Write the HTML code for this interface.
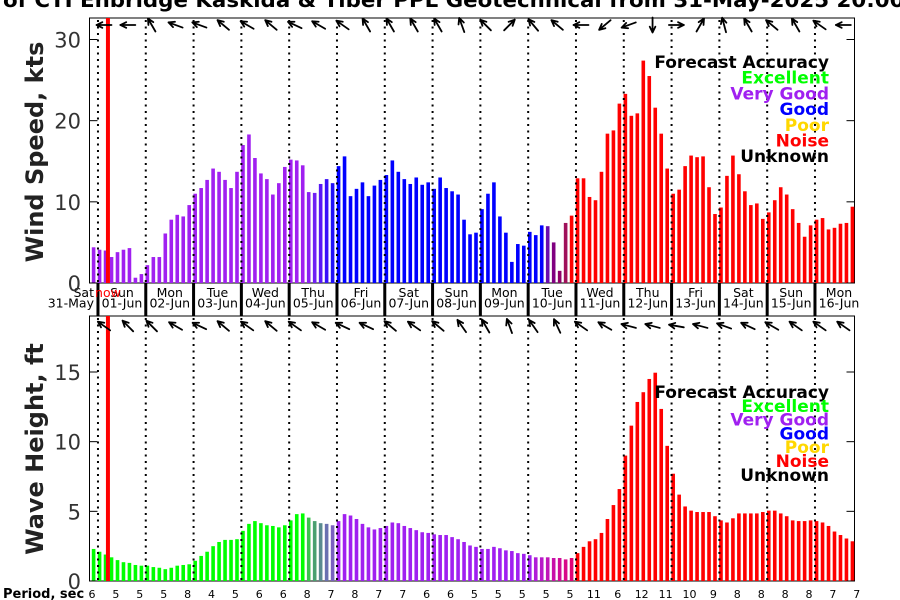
<!DOCTYPE html>
<html><head><meta charset="utf-8"><style>
html,body{margin:0;padding:0;background:#fff;}
svg{display:block;font-family:"DejaVu Sans","Liberation Sans",sans-serif;}
</style></head><body>
<svg id="chart" width="900" height="600" viewBox="0 0 900 600" xmlns="http://www.w3.org/2000/svg">
<text x="3" y="7" font-size="20" font-weight="bold" textLength="910" lengthAdjust="spacingAndGlyphs">of CTI Enbridge  Kaskida &amp; Tiber PPL Geotechnical from 31-May-2025 20:00:</text>
<g id="g"></g>
</svg>
<script>
const windSpeed=[4.4,4.1,4.0,3.2,3.8,4.1,4.3,0.65,1.1,2.2,3.2,3.2,6.1,7.8,8.4,8.2,9.6,11.0,11.7,12.7,14.1,13.7,12.7,11.7,13.7,17.0,18.3,15.4,13.5,12.8,10.9,12.3,14.3,15.2,15.1,14.5,11.2,11.1,12.2,12.8,12.3,14.4,15.6,10.7,11.6,12.4,10.7,12.0,12.7,13.3,15.1,13.7,12.8,12.2,13.0,12.1,12.4,11.6,13.0,11.7,
11.3,10.9,7.8,6.0,6.2,9.1,11.0,12.4,8.2,6.2,2.6,4.8,4.6,6.3,5.9,7.1,7.0,5.0,1.5,7.4,8.3,12.9,12.9,10.6,10.2,13.7,18.4,18.8,22.1,23.3,20.6,20.9,27.4,25.5,21.6,18.4,14.1,11.0,11.5,14.4,15.7,15.5,15.6,11.8,8.5,9.3,13.2,15.7,13.4,11.3,9.6,9.8,7.9,8.7,10.2,11.8,10.9,9.1,7.4,5.7,7.1,7.8,8.0,6.6,6.8,7.3,7.4,9.4];
const waveHeight=[2.3,2.1,1.9,1.7,1.5,1.35,1.3,1.15,1.1,1.1,1.0,0.95,0.85,0.95,1.1,1.15,1.2,1.45,1.8,2.1,2.5,2.8,2.95,2.95,3.0,3.6,4.1,4.3,4.15,4.0,3.95,3.85,4.0,4.35,4.8,4.85,4.55,4.3,4.15,4.1,4.0,4.3,4.8,4.7,4.45,4.1,3.85,3.7,3.8,3.95,4.2,4.15,3.95,3.8,3.65,3.5,3.45,3.35,3.3,3.3,
3.15,3.0,2.8,2.55,2.45,2.3,2.3,2.45,2.35,2.2,2.15,2.0,1.95,1.85,1.7,1.7,1.7,1.65,1.65,1.55,1.65,2.0,2.45,2.85,3.0,3.45,4.45,5.45,6.6,9.0,11.15,12.85,13.55,14.5,14.95,12.35,9.7,7.7,6.2,5.35,5.05,4.95,4.95,4.95,4.65,4.35,4.2,4.5,4.85,4.85,4.85,4.85,4.95,5.05,5.05,4.85,4.65,4.35,4.3,4.3,4.35,4.3,4.2,3.95,3.55,3.3,3.05,2.85];
const windColorRuns=[["#a020f0",36],["#8a20f2",1],["#7020f4",1],["#5818f6",1],["#3810f8",1],["#2010fa",1],["#0000ff",35],["#6a0dad",1],["#800080",1],["#900068",1],["#a0105a",1],["#ff0000",48]];
const waveColorRuns=[["#00ff00",36],["#3cc050",1],["#4aa070",1],["#5a8a90",1],["#6a70b0",1],["#7a60c0",1],["#a020f0",33],["#b01cd8",1],["#b818c8",1],["#c014b8",1],["#c810a8",1],["#d00c98",1],["#d80888",1],["#e00478",1],["#ff0000",47]];
const windDir=[180,180,120,160,160,140,150,140,155,150,145,120,120,120,120,110,135,45,130,140,180,220,200,270,0,60,105,120,140,120,145,180];
const waveDir=[145,135,135,150,155,140,145,140,145,150,155,155,140,145,140,125,120,110,125,115,145,150,165,165,170,165,160,155,150,145,145,145];
const periods=[6,5,5,5,8,4,5,6,6,8,7,8,7,7,6,6,5,5,5,5,5,11,6,12,11,10,9,8,8,8,8,7,7];
const dayNames=["Sun","Mon","Tue","Wed","Thu","Fri","Sat","Sun","Mon","Tue","Wed","Thu","Fri","Sat","Sun","Mon"];
const dayDates=["01-Jun","02-Jun","03-Jun","04-Jun","05-Jun","06-Jun","07-Jun","08-Jun","09-Jun","10-Jun","11-Jun","12-Jun","13-Jun","14-Jun","15-Jun","16-Jun"];
const windTicks=[0,10,20,30];
const waveTicks=[0,5,10,15];
const legendLabels=["Forecast Accuracy","Excellent","Very Good","Good","Poor","Noise","Unknown"];
const legendColors=["#000","#00ff00","#a020f0","#0000ff","#ffd700","#ff0000","#000"];
const nowIndex=2.4;

const NS="http://www.w3.org/2000/svg";
const G=document.getElementById('g');
function mk(tag,attrs,parent){const e=document.createElementNS(NS,tag);for(const k in attrs)e.setAttribute(k,attrs[k]);(parent||G).appendChild(e);return e;}
function expand(runs){const o=[];runs.forEach(r=>{for(let i=0;i<r[1];i++)o.push(r[0]);});return o;}
const windColors=expand(windColorRuns), waveColors=expand(waveColorRuns);
const X0=93.6, DX=5.975;
function xs(i){return X0+i*DX;}
const L=89.5,R=854.5;
function yW(v){return 283-v*(243.5/30);}
function yH(v){return 581-v*(209/15);}

function frame(top,bot,name){
  const r=mk('rect',{x:L,y:top,width:R-L,height:bot-top,fill:'#fff',stroke:'#000','stroke-width':1});
  
  
}
frame(18,283,'wind-plot-frame');
frame(316,581,'wave-plot-frame');

function bars(vals,cols,yf,base,name){
  const g=mk('g',{});
  
  
  vals.forEach((v,i)=>{
    const y=yf(v);
    const b=mk('rect',{x:xs(i)-1.8,y:y,width:3.6,height:base-y,fill:cols[i]},g);
    
    
  });
}
bars(windSpeed,windColors,yW,283,'wind-speed-bars');
bars(waveHeight,waveColors,yH,581,'wave-height-bars');

for(let k=0;k<16;k++){
  const x=xs(1+8*k)-1.6;
  [[18,283],[316,581]].forEach(p=>{
    const l=mk('line',{x1:x,y1:p[0]+2,x2:x,y2:p[1],stroke:'#000','stroke-width':2,'stroke-dasharray':'2,4.5'});
    
    
  });
  const s=mk('rect',{x:x-1.5,y:283,width:3,height:33,fill:'#000'});
  
  
  const cx=x+24;
  const t1=mk('text',{x:cx,y:297,'font-size':12.5,'text-anchor':'middle',fill:'#000'});
  t1.textContent=dayNames[k];
  
  
  const t2=mk('text',{x:cx,y:307.5,'font-size':12.5,'text-anchor':'middle',fill:'#000'});
  t2.textContent=dayDates[k];
  
  
}
{const t1=mk('text',{x:94,y:297,'font-size':12.5,'text-anchor':'end'});t1.textContent='Sat';


const t2=mk('text',{x:94,y:307.5,'font-size':12.5,'text-anchor':'end'});t2.textContent='31-May';

}
mk('line',{x1:L,y1:316,x2:R,y2:316,stroke:'#000','stroke-width':1});

{const nx=xs(nowIndex);
[[18,283],[316,581]].forEach(p=>{const r=mk('rect',{x:nx-2,y:p[0],width:4,height:p[1]-p[0],fill:'#ff0000'});

});
const t=mk('text',{x:nx,y:297,'font-size':12.5,'text-anchor':'middle',fill:'#ff0000'});t.textContent='now';

}

function ticks(arr,yf,name){
  arr.forEach(v=>{const y=yf(v);
    mk('line',{x1:L,y1:y,x2:L+8,y2:y,stroke:'#000','stroke-width':1});
    mk('line',{x1:R-8,y1:y,x2:R,y2:y,stroke:'#000','stroke-width':1});
    const t=mk('text',{x:81,y:y+8,'font-size':21,'text-anchor':'end',fill:'#333'});t.textContent=v;
    
    
  });
}
ticks(windTicks,yW,'wind-y-tick-label');
ticks(waveTicks,yH,'wave-y-tick-label');

{const t=mk('text',{x:0,y:0,'font-size':24,'font-weight':'bold','text-anchor':'middle',transform:'translate(43,152) rotate(-90)',fill:'#222'});t.textContent='Wind Speed, kts';


const t2=mk('text',{x:0,y:0,'font-size':24,'font-weight':'bold','text-anchor':'middle',transform:'translate(43,449) rotate(-90)',fill:'#222'});t2.textContent='Wave Height, ft';

}

function arrows(dirs,y,name){
  const g=mk('g',{});
  
  
  dirs.forEach((d,j)=>{
    const cx=104+j*23.85, a=d*Math.PI/180, len=7.5;
    const dx=Math.cos(a)*len, dy=-Math.sin(a)*len;
    const hx=cx+dx, hy=y+dy;
    const h=6.5, s=0.45;
    const p=mk('path',{d:`M${cx-dx},${y-dy}L${hx},${hy}`+
      `M${hx},${hy}L${hx-Math.cos(a-s)*h},${hy+Math.sin(a-s)*h}`+
      `M${hx},${hy}L${hx-Math.cos(a+s)*h},${hy+Math.sin(a+s)*h}`,stroke:'#000','stroke-width':1.8,fill:'none','stroke-linecap':'round'},g);
    
    
  });
}
arrows(windDir,25,'wind-direction-arrows');
arrows(waveDir,326,'wave-direction-arrows');

{const t=mk('text',{x:3,y:598,'font-size':13,'font-weight':'bold'});t.textContent='Period, sec';

}
periods.forEach((p,k)=>{const t=mk('text',{x:92+k*23.9,y:598,'font-size':11,'text-anchor':'middle'});t.textContent=p;

});

function legend(y0,dy,name){
  const g=mk('g',{});
  
  
  legendLabels.forEach((s,i)=>{const t=mk('text',{x:829,y:y0+i*dy,'font-size':17,'font-weight':'bold','text-anchor':'end',fill:legendColors[i]},g);t.textContent=s;
    
    });
}
legend(68,15.7,'wind-legend');
legend(398,13.8,'wave-legend');
</script>
</body></html>
